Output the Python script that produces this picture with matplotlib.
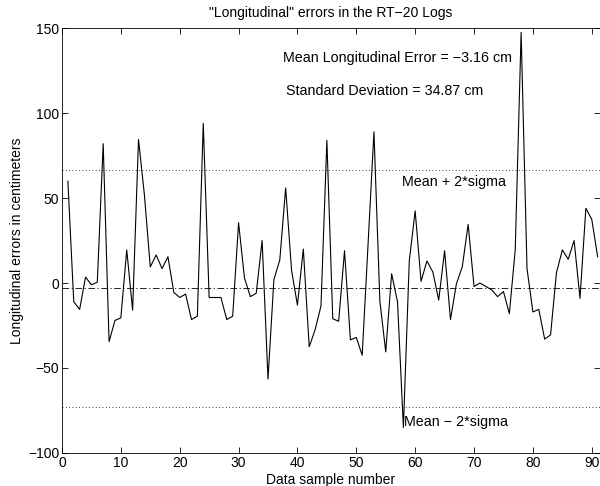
import matplotlib
matplotlib.use('Agg')
import matplotlib.pyplot as plt
import numpy as np

plt.rcParams['font.family'] = ['Liberation Sans', 'DejaVu Sans']

# longitudinal errors (cm), sample numbers 1..91
errors = [60, -11, -15.5, 3.5, -1, 0.5, 82, -34.5, -22, -20.5,
          19.5, -16, 84.5, 52, 9.5, 16.5, 8.5, 15.5, -5.5, -8.5,
          -6.5, -21.5, -19.5, 94, -8.5, -8.5, -8.5, -21.5, -19.5, 35.5,
          3, -8, -6, 25, -56.5, 2, 13.5, 56, 7.5, -13,
          20, -37.5, -27.5, -13.5, 84, -21, -22.5, 19, -33.5, -32,
          -42.5, 23, 89, -10.5, -40.5, 5.5, -11, -85, 13, 42.5,
          1, 13, 6.5, -10, 19, -21.5, -0.5, 9.5, 34.5, -2,
          0, -2, -4, -8, -5, -18, 19.5, 147.5, 8.5, -17,
          -15.5, -33, -30.5, 6, 19.5, 14, 25, -9, 44, 37.5,
          15.5]
samples = np.arange(1, len(errors) + 1)

mean_err = -3.16
std_err = 34.87

fig = plt.figure(figsize=(6.0, 4.86), dpi=100)
ax = fig.add_axes([0.1033, 0.068, 0.8967, 0.874])

ax.plot(samples, errors, color='black', linewidth=0.8)
ax.axhline(mean_err, color='black', linewidth=0.6, linestyle=(0, (8, 3, 1.5, 3)))
ax.axhline(mean_err + 2 * std_err, color='black', linewidth=0.6, linestyle=(0, (1, 3)))
ax.axhline(mean_err - 2 * std_err, color='black', linewidth=0.6, linestyle=(0, (1, 3)))

ax.set_xlim(0, 91.4)
ax.set_ylim(-100, 150)
ax.set_xticks(np.arange(0, 91, 10))
ax.set_yticks(np.arange(-100, 151, 50))
ax.tick_params(direction='in', top=True, right=True, labelsize=10, length=4, width=0.6, pad=2)
for s in ax.spines.values():
    s.set_linewidth(0.6)

ax.set_title('"Longitudinal" errors in the RT\u221220 Logs', fontsize=10, pad=8)
ax.set_xlabel('Data sample number', fontsize=10, labelpad=2)
ax.set_ylabel('Longitudinal errors in centimeters', fontsize=10, labelpad=3)

ax.text(37.5, 132.6, 'Mean Longitudinal Error = \u22123.16 cm', fontsize=10.3, va='center')
ax.text(38.0, 113.3, 'Standard Deviation = 34.87 cm', fontsize=10.3, va='center')
ax.text(57.8, 59.3, 'Mean + 2*sigma', fontsize=10.3, va='center')
ax.text(58.1, -81.6, 'Mean \u2212 2*sigma', fontsize=10.3, va='center')

fig.savefig('out.png', dpi=100)
